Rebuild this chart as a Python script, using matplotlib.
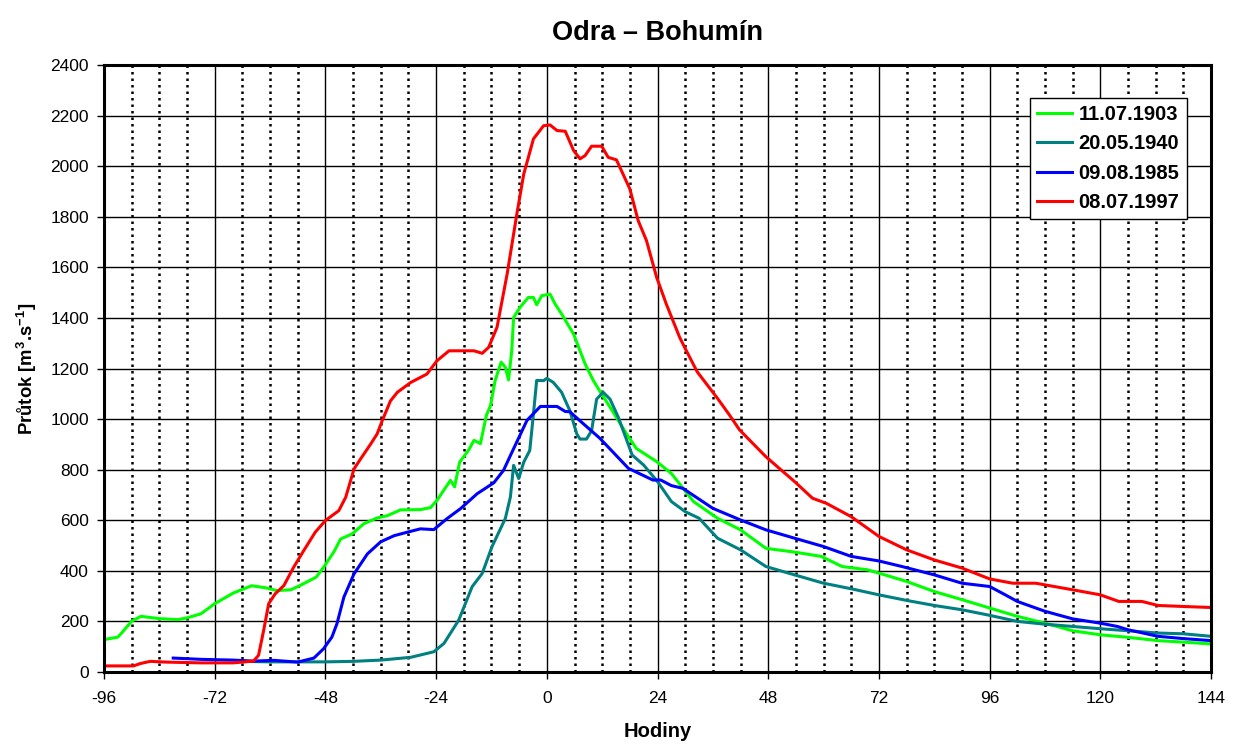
import matplotlib
matplotlib.use('Agg')
import matplotlib.pyplot as plt
from matplotlib.ticker import MultipleLocator

plt.rcParams['font.family'] = ['Liberation Sans', 'DejaVu Sans']
plt.rcParams['mathtext.default'] = 'regular'
plt.rcParams['axes.unicode_minus'] = False

# 11.07.1903
h_1903 = [-96, -93, -92, -90, -88, -84, -80, -78, -75, -72, -68, -64, -61, -58.5, -55.5, -53.5, -50, -48.4,
          -46.2, -44.7, -42.2, -39.7, -36.8, -34.6, -31.7, -27.4, -25.2, -23.8, -20.9, -20, -18.9, -17, -15.8,
          -14.4, -13.1, -12.2, -11.2, -9.9, -9, -8.3, -7.6, -7.2, -5.8, -4, -2.9, -2.2, -1.1, 0.7, 1.8, 3.2,
          5.8, 8.3, 10.1, 11.5, 14.4, 17.3, 19.4, 23.8, 27, 31.8, 37, 42, 47.5, 53.7, 59.5, 64, 69.5, 72, 78,
          84, 90, 96, 102, 108, 114, 120, 126, 132.5, 138, 144]
q_1903 = [128, 138, 158, 201, 220, 211, 207, 214, 230, 270, 312, 341, 333, 322, 325, 342, 375, 414,
          474, 526, 546, 586, 609, 618, 641, 642, 650, 679, 758, 732, 830, 876, 916,
          903, 1015, 1054, 1153, 1225, 1205, 1155, 1271, 1402, 1442, 1481, 1481, 1452, 1488, 1494, 1455, 1416,
          1336, 1218, 1152, 1110, 1027, 941, 884, 832, 785, 674, 608, 562, 489, 474, 457, 417, 404, 391, 358,
          318, 286, 253, 220, 193, 163, 147, 137, 124, 118, 111]

# 20.05.1940
h_1940 = [-66, -60, -54, -48, -42, -36, -29.5, -24.5, -22.3, -19.1, -16.2, -14, -11.9, -9, -7.9, -7.2, -6.1,
          -5, -3.7, -2.9, -2.2, -0.7, 0, 1.4, 3.2, 5, 6.5, 7.2, 8.6, 9.7, 10.8, 12.2, 13.7, 15.5, 18.5, 21,
          24, 27, 30, 33, 37, 42, 47.5, 53.7, 60, 66, 72, 78, 84, 90, 96, 102, 108, 114, 120, 126, 132.5,
          138, 144]
q_1940 = [42, 40, 40, 40, 42, 47, 58, 80, 113, 205, 337, 390, 495, 607, 692, 817, 765,
          830, 876, 1021, 1153, 1152, 1161, 1145, 1106, 1033, 941, 921, 921, 954, 1079, 1106, 1079, 1007, 858, 818,
          753, 674, 634, 608, 529, 483, 417, 384, 351, 329, 305, 283, 263, 246, 224, 200, 189, 180, 171, 163, 154,
          151, 141]

# 09.08.1985
h_1985 = [-81, -75, -68, -63.6, -59.2, -54, -50.5, -48.4, -46.6, -45.5, -44, -41.8, -38.9, -36, -33.1, -30.2,
          -27.4, -24.5, -21.6, -18.7, -15.1, -11.5, -9.4, -7.2, -4.3, -1.4, 2.2, 4, 5, 7.2, 11.5, 17.7, 23,
          24.7, 27, 29.5, 36, 42, 47.5, 53.7, 60, 66, 72, 77, 84, 90, 96, 99.4, 102, 108, 114, 120, 123.7,
          126, 132.5, 138, 144]
q_1985 = [55, 50, 47, 43, 46, 39, 55, 92, 138, 191, 296, 388, 467, 515, 539, 553,
          566, 563, 607, 646, 705, 748, 797, 883, 995, 1050, 1050, 1030, 1029, 993, 924, 805, 759,
          759, 737, 726, 647, 601, 562, 529, 496, 457, 439, 417, 384, 351, 338, 305, 279, 240, 210, 193, 180,
          167, 141, 132, 124]

# 08.07.1997
h_1997 = [-96, -89.6, -88.2, -86, -82.4, -75, -68, -63.6, -62.5, -61.4, -60.3, -58.9, -57, -54.9, -52.7, -50.2,
          -48, -45.1, -43.6, -41.8, -40.4, -38.2, -36.8, -35.7, -33.9, -32.4, -29.5, -26, -23.8, -21.2, -15.8,
          -14, -12.6, -10.8, -8.6, -6.5, -5, -2.9, -0.7, 0.7, 2.2, 4, 5.8, 7.2, 8.3, 9.7, 11.9, 13.3, 15.1,
          18, 19.8, 21.6, 23.8, 25.9, 28.8, 30, 32.6, 37, 39.6, 41.8, 47.5, 53.7, 57.6, 60.6, 66, 72, 78, 84,
          90, 96, 101, 106, 114, 120, 124, 129, 132.5, 138, 144]
q_1997 = [24, 24, 33, 42, 39, 36, 36, 43, 66, 164, 270, 309, 342, 414, 480, 553,
          599, 638, 691, 803, 842, 901, 941, 993, 1072, 1106, 1145, 1178, 1231, 1270, 1270,
          1260, 1284, 1363, 1574, 1811, 1969, 2108, 2160, 2163, 2141, 2138, 2062, 2029, 2042, 2079, 2079, 2035, 2025,
          1910, 1785, 1706, 1561, 1455, 1323, 1279, 1187, 1082, 1016, 957, 851, 753, 687, 667, 614, 536, 483, 443,
          411, 368, 351, 351, 325, 305, 279, 279, 263, 259, 255]

fig = plt.figure(figsize=(12.37, 7.44), dpi=100)
ax = fig.add_axes([0.0841, 0.0968, 0.8949, 0.8158])

# dotted 6-hour lines and solid 24-hour lines
for h in range(-90, 144, 6):
    if h % 24 == 0:
        ax.axvline(h, color='black', lw=1.0, zorder=1)
    else:
        ax.axvline(h, color='black', lw=1.8, linestyle=(0, (1, 1.6)), zorder=1)
for v in range(200, 2400, 200):
    ax.axhline(v, color='black', lw=1.0, zorder=1)

lw = 2.2
ax.plot(h_1903, q_1903, color='#00ff00', lw=lw, label='11.07.1903', zorder=3)
ax.plot(h_1940, q_1940, color='#008080', lw=lw, label='20.05.1940', zorder=3)
ax.plot(h_1985, q_1985, color='#0000ff', lw=lw, label='09.08.1985', zorder=3)
ax.plot(h_1997, q_1997, color='#ff0000', lw=lw, label='08.07.1997', zorder=3)

ax.set_xlim(-96, 144)
ax.set_ylim(0, 2400)
ax.xaxis.set_major_locator(MultipleLocator(24))
ax.yaxis.set_major_locator(MultipleLocator(200))
ax.tick_params(axis='both', labelsize=12.5, direction='out', length=5, width=1)
ax.tick_params(axis='y', pad=6)
ax.tick_params(axis='x', pad=9)
for s in ax.spines.values():
    s.set_linewidth(2.2)
    s.set_zorder(4)

ax.set_xlabel('Hodiny', fontsize=14.5, fontweight='bold', labelpad=11)
ax.set_ylabel('Průtok [m$^{3}$.s$^{-1}$]', fontsize=13.3, fontweight='bold', labelpad=8)
ax.set_title('Odra – Bohumín', fontsize=19.5, fontweight='bold', pad=18)

leg = ax.legend(loc='upper right', bbox_to_anchor=(0.978, 0.946), borderaxespad=0, fancybox=False,
                framealpha=1, edgecolor='black', prop={'weight': 'bold', 'size': 14.5},
                handlelength=1.7, handletextpad=0.35, labelspacing=0.52, borderpad=0.35)
leg.get_frame().set_linewidth(1.0)
leg.set_zorder(5)

fig.savefig('out.png', dpi=100)
